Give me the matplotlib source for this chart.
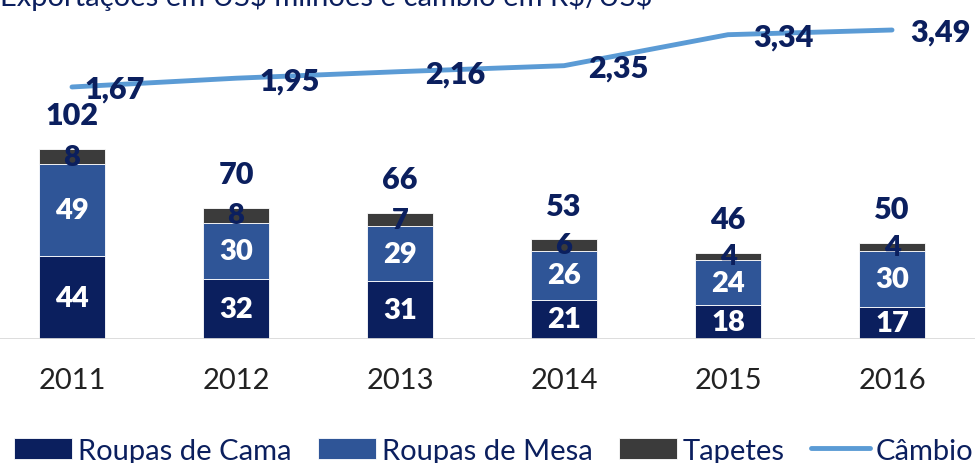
import matplotlib.pyplot as plt
import numpy as np

# dados
anos = ["2011", "2012", "2013", "2014", "2015", "2016"]
cama = [44, 32, 31, 21, 18, 17]
mesa = [49, 30, 29, 26, 24, 30]
tapetes = [8, 8, 7, 6, 4, 4]
totais = [102, 70, 66, 53, 46, 50]
cambio = [1.67, 1.95, 2.16, 2.35, 3.34, 3.49]

c_cama = '#0B1F5E'
c_mesa = '#2F5597'
c_tap = '#3B3B3B'
c_linha = '#5B9BD5'
c_texto = '#0B1F5E'

plt.rcParams['font.family'] = ['Lato', 'DejaVu Sans']

fig = plt.figure(figsize=(9.75, 4.64), dpi=100)
ax = fig.add_axes([0, 124 / 464, 1, 340 / 464])
ax2 = ax.twinx()

x = np.arange(len(anos))
w = 0.40
b1 = ax.bar(x, cama, w, color=c_cama, edgecolor='white', linewidth=0.6)
b2 = ax.bar(x, mesa, w, bottom=cama, color=c_mesa, edgecolor='white', linewidth=0.6)
base3 = np.array(cama) + np.array(mesa)
b3 = ax.bar(x, tapetes, w, bottom=base3, color=c_tap, edgecolor='white', linewidth=0.6)

for i in range(len(anos)):
    ax.text(x[i], cama[i] / 2, str(cama[i]), ha='center', va='center',
            color='white', fontsize=21, fontweight='heavy')
    ax.text(x[i], cama[i] + mesa[i] / 2, str(mesa[i]), ha='center', va='center',
            color='white', fontsize=21, fontweight='heavy')
    ax.text(x[i], base3[i] + tapetes[i] / 2, str(tapetes[i]), ha='center', va='center',
            color=c_texto, fontsize=21, fontweight='heavy')
    ax.text(x[i], base3[i] + tapetes[i] + 18, str(totais[i]), ha='center', va='center',
            color=c_texto, fontsize=22, fontweight='heavy')

ax.axhline(0, color='#D9D9D9', linewidth=2)
ax.set_xlim(-0.439, 5.506)
ax.set_ylim(0, 181)

ln, = ax2.plot(x, cambio, color=c_linha, linewidth=3.5, solid_capstyle='round')
dx = [43, 54, 55, 54, 55, 48]
for i in range(len(anos)):
    ax2.annotate(f"{cambio[i]:.2f}".replace('.', ','), (x[i], cambio[i]),
                 xytext=(dx[i], -2), textcoords='offset pixels',
                 ha='center', va='center', color=c_texto, fontsize=22, fontweight='heavy')
ax2.set_ylim(-6.38, 4.48)

for a in (ax, ax2):
    for s in a.spines.values():
        s.set_visible(False)
    a.set_yticks([])
ax.set_xticks(x)
ax.set_xticklabels(anos, fontsize=21, color='#222222')
ax.tick_params(axis='x', length=0, pad=20)

fig.text(0.0, 1.008, "Exportações em US$ milhões e câmbio em R$/US$", ha='left', va='center',
         fontsize=21, color=c_texto)

fig.legend([b1, b2, b3, ln], ['Roupas de Cama', 'Roupas de Mesa', 'Tapetes', 'Câmbio'],
           loc='lower center', bbox_to_anchor=(0.506, -0.027), ncol=4, frameon=False,
           fontsize=21, handlelength=2.0, handleheight=0.75, columnspacing=0.9,
           handletextpad=0.2, borderpad=0.2, borderaxespad=0.2, labelcolor='#0B1F5E')

fig.savefig('out.png', dpi=100)
